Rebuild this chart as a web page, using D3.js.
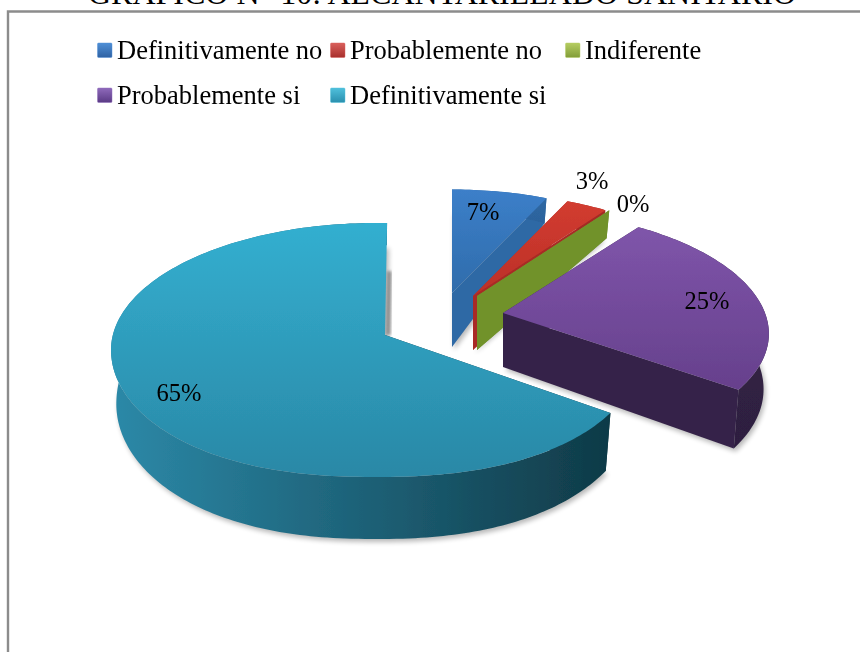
<!DOCTYPE html>
<html><head><meta charset="utf-8">
<script src="https://cdn.jsdelivr.net/npm/d3@7"></script>
<style>html,body{margin:0;padding:0;background:#fff;overflow:hidden}svg{display:block}text{font-family:"Liberation Serif","Times New Roman",serif;fill:#000}</style>
</head><body><svg id="c" width="860" height="652"></svg>
<script>
const title = "GRÁFICO N° 10: ALCANTARILLADO SANITARIO";
const categories = ["Definitivamente no","Probablemente no","Indiferente","Probablemente si","Definitivamente si"];
const values = [7,3,0,25,65];
const labels = ["7%","3%","0%","25%","65%"];
const topColors = [["#3c7fc9","#2f6cab"],["#d23c30","#bb2f28"],["#8aa83a","#76942c"],["#7f55aa","#66408c"],["#33afd0","#2a88a6"]];
const wallColors = [["#2e69a5","#2c639c"],["#a92c25","#a02a24"],["#71922c","#6b8a2a"],["#352349","#2e1f40"],["#2c89a8","#0f3a47"]];
const legendColors = [["#4f8fd6","#2f62a3"],["#d9605c","#a82f2c"],["#b5cd62","#829d38"],["#8f6abb","#5a3a85"],["#4fc0dc","#2a8fae"]];
// per-slice placement of the exploded wedge
const apexX = [452,473,477,503,385];
const apexY = [293,296,296,313,335];
const rimX = [452,473,477,503,376];   // centre of the rim ellipse
const rimY = [293,296,296,313,350];
const radiusX = [256,256,256,262,265];
const radiusY = [119,119,119,119,127];
const perspX = [.17,.17,.17,.17,0];
const perspY = [.15,.15,.15,.15,0];
const fatten = [1,1,1,1,.87];
const startTurn = [0,0,0,0,-6.3];
const endTurn = [0,0,0,0,2.4];
const labelX = [483,592,633,707,179];
const labelY = [220,189,212,309,401];
const legendX = [97,330,565,97,330];
const legendY = [50,50,50,95,95];

const svg = d3.select("#c"), defs = svg.append("defs");
defs.append("filter").attr("id","blur").attr("x","-10%").attr("y","-10%").attr("width","120%").attr("height","120%")
  .append("feGaussianBlur").attr("stdDeviation",2.5);
defs.append("filter").attr("id","blur2").attr("x","-200%").attr("y","-10%").attr("width","500%").attr("height","120%")
  .append("feGaussianBlur").attr("stdDeviation",1.5);
defs.append("filter").attr("id","soft").append("feGaussianBlur").attr("stdDeviation",.45);
function grad(id,c,horizontal){
  const g = defs.append("linearGradient").attr("id",id).attr("x1",0).attr("y1",0).attr("x2",horizontal?1:0).attr("y2",horizontal?0:1);
  c.forEach((col,i)=>g.append("stop").attr("offset",i/(c.length-1)).attr("stop-color",col));
}
// frame
svg.append("path").attr("d",d3.line()([[8,652],[8,11.5],[860,11.5]])).attr("fill","none").attr("stroke","#8c8c8c").attr("stroke-width",2.4);
// title, clipped by the page top as in the source
svg.append("text").attr("x",442).attr("y",3.5).attr("text-anchor","middle").attr("font-size",32).text(title);

const arcs = d3.pie().sort(null).value(d=>d)(values);
function height(v){return v<0 ? 54+32*v : 54+8*v;}
function apex(i,low){ return [apexX[i], apexY[i]+(low?height(0):0)]; }
function proj(i,a,low){
  let u=Math.sin(a); const v=-Math.cos(a);
  if(v>0) u=Math.sign(u)*Math.pow(Math.abs(u),fatten[i]);
  const x=u*radiusX[i]/(1-perspX[i]*v), y=v*radiusY[i]/(1-perspY[i]*v);
  return low ? [rimX[i]+x*.98, rimY[i]+y+height(v)] : [rimX[i]+x, rimY[i]+y];
}
const line=d3.line();
function rim(i,a0,a1,low){
  const n=Math.max(1,Math.ceil(Math.abs(a1-a0)/.02));
  return d3.range(n+1).map(k=>proj(i,a0+(a1-a0)*k/n,low));
}
const shadow=svg.append("g").attr("filter","url(#blur)").attr("fill","#000").attr("opacity",.28);
const g=svg.append("g").attr("filter","url(#soft)");
arcs.forEach((d,i)=>{
  const a0=d.startAngle+startTurn[i]*Math.PI/180,a1=d.endAngle+endTurn[i]*Math.PI/180;
  grad("t"+i,topColors[i],false);
  grad("w"+i,wallColors[i],i===4);
  const wall=c=>g.append("path").attr("d",line(c)+"Z").attr("fill","url(#w"+i+")");
  const solid=c=>g.append("path").attr("d",line(c)+"Z").attr("fill",wallColors[i][i===4?1:0]);
  const top=[apex(i,false),...rim(i,a0,a1,false)];
  const low=[apex(i,true),...rim(i,a0,a1,true)];
  shadow.append("path").attr("d",line(low.map(p=>[p[0]+2,p[1]+3]))+"Z");
  if(i===4){ // thin shadow of the cut face to the right of the large wedge
    const p=proj(i,a1,false), q=apex(i,false);
    g.append("path").attr("d",line([[p[0]+2,p[1]+48],[q[0]+3,q[1]]])).attr("stroke","#8f8f8f").attr("stroke-width",5).attr("fill","none").attr("filter","url(#blur2)");
  }
  solid([apex(i,false),proj(i,a0,false),proj(i,a0,true),apex(i,true)]);
  if(i!==4) solid([apex(i,false),proj(i,a1,false),proj(i,a1,true),apex(i,true)]);
  if(a1>a0){
    wall([...rim(i,a0,a1,false),...rim(i,a1,a0,true)]);
    g.append("path").attr("d",line(top)+"Z").attr("fill","url(#t"+i+")");
  }
});
labels.forEach((t,i)=>svg.append("text").attr("x",labelX[i]).attr("y",labelY[i]).attr("text-anchor","middle").attr("font-size",24.5).text(t));
categories.forEach((t,i)=>{
  grad("l"+i,legendColors[i],false);
  svg.append("rect").attr("x",legendX[i]+.5).attr("y",legendY[i]-7).attr("width",14.5).attr("height",14.5).attr("rx",1).attr("fill","url(#l"+i+")").attr("stroke",legendColors[i][0]).attr("stroke-opacity",.45);
  svg.append("text").attr("x",legendX[i]+20).attr("y",legendY[i]+9).attr("font-size",26.5).text(t);
});
</script></body></html>
